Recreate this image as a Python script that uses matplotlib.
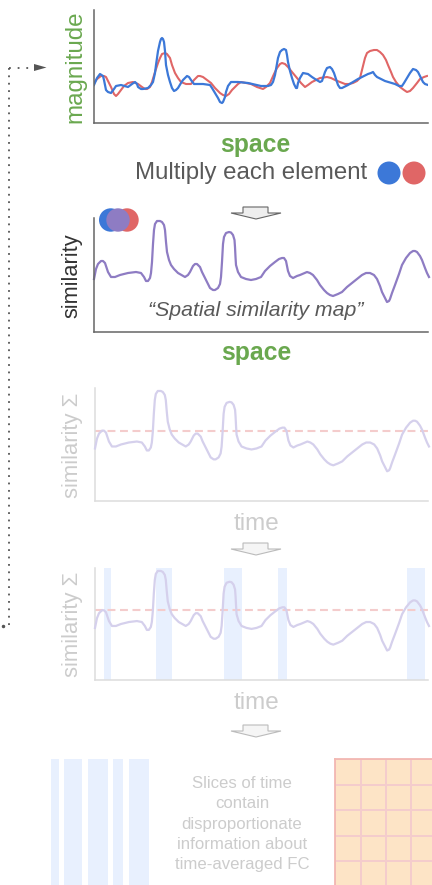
import numpy as np
import matplotlib
matplotlib.use("Agg")
import matplotlib.pyplot as plt
from matplotlib.patches import Circle, Polygon

plt.rcParams['font.family'] = ['Liberation Sans', 'DejaVu Sans']

# ---- data (space / time index, arbitrary magnitude units) ----
blue_x = [0, 3, 6, 9, 10, 12, 14, 17, 20, 22, 27, 34, 38, 41, 43, 44, 47, 49, 54, 57, 59, 61, 62, 64, 66, 67, 68, 69,
          70, 71, 72, 74, 76, 78, 80, 82, 84, 87, 89, 93, 95, 97, 100, 109, 116, 118, 121, 124, 126, 128, 129, 131,
          132, 134, 137, 144, 154, 167, 174, 177, 179, 181, 184, 186, 188, 190, 192, 193, 194, 196, 198, 200, 202,
          203, 204, 206, 209, 214, 218, 221, 226, 228, 229, 231, 233, 236, 238, 240, 242, 244, 246, 248, 254, 264,
          274, 277, 279, 281, 283, 291, 301, 305, 308, 310, 313, 316, 319, 322, 324, 327, 329, 331, 334]
blue_y = [38, 45, 49, 47, 43, 33, 31, 30, 34, 37, 38, 36, 39, 41, 39, 36, 34, 34, 35, 38, 41, 50, 58, 72, 81, 84, 85, 84,
          81, 72, 58, 48, 41, 35, 32, 33, 35, 40, 43, 47, 46, 43, 39, 39, 38, 35, 30, 25, 21, 20, 21, 26,
          31, 37, 41, 41, 40, 37, 37, 38, 41, 48, 65, 71, 73, 74, 73, 68, 61, 52, 45, 39, 35,
          35, 40, 45, 50, 49, 46, 44, 41, 42, 45, 51, 55, 56, 54, 50, 44, 38, 35, 35, 38, 44,
          49, 50, 51, 48, 46, 42, 39, 37, 37, 40, 45, 50, 54, 53, 51, 45, 41, 39, 38]

red_x = [0, 3, 7, 10, 12, 14, 17, 20, 22, 24, 27, 30, 34, 39, 44, 48, 51, 53, 56, 58, 61, 64, 66, 68, 71, 73, 76, 78,
         81, 84, 87, 92, 97, 100, 104, 106, 109, 113, 117, 121, 126, 129, 132, 135, 138, 141, 144, 147, 152, 157,
         163, 169, 172, 176, 180, 183, 186, 188, 191, 194, 198, 203, 207, 211, 214, 218, 222, 226, 233, 237, 241,
         246, 251, 255, 259, 263, 266, 268, 271, 273, 276, 280, 283, 286, 289, 292, 294, 297, 299, 302, 306, 310,
         313, 316, 319, 323, 326, 330, 333]
red_y = [40, 44, 47, 47, 46, 42, 36, 29, 27, 29, 33, 37, 40, 41, 39, 36, 34, 34, 36, 41, 51, 60, 65, 69, 70, 69, 65, 58,
         50, 45, 41, 39, 39, 43, 47, 47, 46, 43, 40, 35, 30, 28, 27, 29, 33, 36, 39, 41, 40, 39,
         36, 34, 36, 40, 49, 55, 59, 60, 59, 56, 51, 45, 40, 36, 38, 41, 43, 45, 46, 45, 43,
         41, 39, 39, 40, 42, 45, 53, 65, 70, 72, 73, 73, 71, 68, 63, 58, 51, 46, 41, 36, 33,
         31, 32, 35, 40, 44, 46, 47]

sim_x = [0, 2, 4, 7, 9, 11, 13, 14, 17, 21, 26, 34, 42, 47, 50, 52, 54, 56, 57, 58, 59, 60, 61, 63, 66, 68, 70, 71, 72,
         73, 75, 77, 80, 84, 91, 94, 96, 99, 101, 103, 106, 108, 111, 116, 119, 121, 124, 126, 127, 128, 129, 130,
         132, 135, 137, 139, 140.5, 141, 141.5, 142, 144, 147, 152, 157, 162, 167, 171, 176, 181, 185, 188, 190,
         192, 193, 194, 196, 199, 203, 206, 213, 216, 219, 223, 226, 230, 233, 236, 239, 244, 248, 253, 258, 263,
         268, 272, 276, 280, 283, 286, 288, 291, 293, 295, 296, 298, 301, 305, 308, 312, 316, 319, 321, 323, 326,
         328, 331, 333, 335]
sim_y = [53, 63, 68, 71, 71, 69, 63, 60, 55, 55, 57, 59, 60, 59, 55, 51, 51, 54, 59, 70, 88, 102, 108, 111, 111, 110,
         107, 102, 90, 80, 72, 67, 63, 59, 55, 57, 60, 66, 68, 68, 65, 60, 54, 44, 42, 42, 44, 48, 55, 70, 88, 95,
         99, 100, 99.5, 97, 92, 85, 75, 67, 60, 55, 53, 52, 53, 55, 61, 66, 70, 73, 74, 74,
         71, 66, 61, 56, 54, 56, 57, 60, 59, 57, 52, 47, 42, 39, 37, 36, 38, 40, 45, 49, 53,
         57, 59, 59, 57, 53, 46, 40, 34, 30, 31, 33, 39, 47, 58, 67, 74, 79, 81, 81, 80, 76,
         72, 64, 59, 55]

threshold = 71

# time bands above threshold (start, width) and their stacked slices
band_start = [9, 61, 129, 184, 313]
band_width = [7, 16, 18, 9, 18]
slice_left = [0, 13, 37, 62, 78]
slice_width = [8, 18, 20, 10, 20]

fc_matrix = np.ones((5, 4))

summary_lines = ["Slices of time", "contain", "disproportionate", "information about", "time-averaged FC"]

BLUE = '#3c78d8'
RED = '#e06666'
PURPLE = '#8e7cc3'
GREEN = '#6aa84f'
FADE = '#cccccc'

W, H = 432, 885
fig = plt.figure(figsize=(W / 100, H / 100), dpi=100)


def add_box(left, top, right, bottom):
    return fig.add_axes([left / W, 1 - bottom / H, (right - left) / W, (bottom - top) / H])


def style(ax, color, lw):
    for s in ['top', 'right']:
        ax.spines[s].set_visible(False)
    for s in ['left', 'bottom']:
        ax.spines[s].set_color(color)
        ax.spines[s].set_linewidth(lw)
    ax.set_xticks([])
    ax.set_yticks([])
    ax.patch.set_alpha(0)


# panel 1: magnitude vs space
ax1 = add_box(94, 10, 428, 123)
ax1.plot(red_x, red_y, color=RED, lw=1.5, solid_joinstyle='round')
ax1.plot(blue_x, blue_y, color=BLUE, lw=1.6, solid_joinstyle='round')
ax1.set_xlim(0, 334)
ax1.set_ylim(0, 113)
style(ax1, '#666666', 1.1)

# panel 2: spatial similarity map
ax2 = add_box(94, 218, 428, 332)
ax2.plot(sim_x, sim_y, color=PURPLE, lw=1.6, solid_joinstyle='round', clip_on=False)
ax2.set_xlim(0, 334)
ax2.set_ylim(0, 114)
style(ax2, '#666666', 1.1)

# panel 3 and 4: summed similarity over time (faded)
ax3 = add_box(95, 388, 428, 501)
ax4 = add_box(95, 568, 428, 680)
for ax in (ax3, ax4):
    ax.plot(sim_x, sim_y, color='#d5d0ec', lw=1.6, solid_joinstyle='round', clip_on=False, zorder=3)
    ax.axhline(threshold, xmin=0, xmax=1.02, color='#f4cccc', lw=1.5, dashes=(3.8, 2.2), clip_on=False, zorder=2)
    ax.set_xlim(0, 334)
    ax.set_ylim(0, 114)
    style(ax, '#dddddd', 1.1)
ax4.bar(band_start, 114, width=band_width, bottom=0, align='edge', color='#e8f0fe', zorder=1)

# panel 5: stacked slices and FC matrix
ax5 = add_box(51, 759, 149, 885)
ax5.bar(slice_left, 1, width=slice_width, align='edge', color='#e8f0fe')
ax5.set_xlim(0, 98)
ax5.set_ylim(0, 1)
ax5.axis('off')

ax6 = add_box(335, 759, 437, 886.5)
ax6.pcolormesh(fc_matrix, cmap=matplotlib.colors.ListedColormap(['#fde4c6']), edgecolors='#f4cccc', linewidth=1.1)
ax6.set_xlim(0, 4)
ax6.set_ylim(5, 0)
ax6.set_xticks([])
ax6.set_yticks([])
for s in ['bottom', 'right']:
    ax6.spines[s].set_visible(False)
for s in ['top', 'left']:
    ax6.spines[s].set_color('#f2b8b2')
    ax6.spines[s].set_linewidth(1.3)

# overlay for labels, arrows and connector (pixel units)
ov = fig.add_axes([0, 0, 1, 1])
ov.set_xlim(0, W)
ov.set_ylim(H, 0)
ov.axis('off')

ov.text(75.5, 66.5, "magnitude", rotation=90, ha='center', va='center', fontsize=17.4, color=GREEN)
ov.text(255, 145, "space", ha='center', va='center', fontsize=17.8, fontweight='bold', color=GREEN)
ov.text(251, 173, "Multiply each element", ha='center', va='center', fontsize=17.3, color='#595959')
ov.add_patch(Circle((389, 173), 11.5, color=BLUE, lw=0))
ov.add_patch(Circle((414, 173), 11.5, color=RED, lw=0))

ov.text(72, 276, "similarity", rotation=90, ha='center', va='center', fontsize=15.7, color='#333333')
ov.text(256, 310, "\u201cSpatial similarity map\u201d", ha='center', va='center', fontsize=15.3,
        style='italic', color='#595959')
ov.text(256, 353, "space", ha='center', va='center', fontsize=17.8, fontweight='bold', color=GREEN)
ov.add_patch(Circle((110.7, 220), 11.7, color=BLUE, lw=0))
ov.add_patch(Circle((127, 220), 11.7, color=RED, lw=0))
ov.add_patch(Circle((118, 220), 11.7, color=PURPLE, lw=0))

ov.text(72.5, 445, "similarity \u03a3", rotation=90, ha='center', va='center', fontsize=15.8, color=FADE)
ov.text(256, 524, "time", ha='center', va='center', fontsize=17.5, color=FADE)
ov.text(72.5, 624, "similarity \u03a3", rotation=90, ha='center', va='center', fontsize=15.8, color=FADE)
ov.text(256, 703, "time", ha='center', va='center', fontsize=17.5, color=FADE)

ov.text(242, 824, "\n".join(summary_lines), ha='center', va='center', fontsize=12.1, color=FADE,
        linespacing=1.42)


def block_arrow(top, face, edge):
    pts = [(243, top), (268, top), (268, top + 6), (281, top + 6), (256, top + 12),
           (231, top + 6), (243, top + 6)]
    ov.add_patch(Polygon(pts, closed=True, facecolor=face, edgecolor=edge, lw=0.8))


block_arrow(207, '#eeeeee', '#666666')
block_arrow(543, '#f5f5f5', '#bbbbbb')
block_arrow(725, '#f5f5f5', '#bbbbbb')

# dotted feedback connector
ov.plot([9.3, 9.3], [68, 626], color='#555555', lw=1.3, dashes=(1, 3.1))
ov.plot([9.3, 31], [67.5, 67.5], color='#555555', lw=1.3, dashes=(1, 3.8))
ov.plot([3], [625.5], marker='o', ms=1.5, color='#555555')
ov.add_patch(Polygon([(34, 64), (46.5, 67.5), (34, 71)], closed=True, color='#555555', lw=0))

fig.savefig("out.png", dpi=100)
